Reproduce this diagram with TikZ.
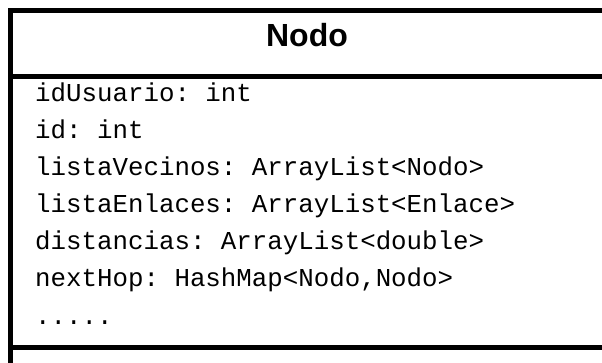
\documentclass[tikz,border=0pt]{standalone}
\usepackage{fontspec}
\usepackage{tikz}
\newfontfamily\titlefont{Liberation Sans}
\newfontfamily\attrfont{Liberation Mono}
\frenchspacing
\tikzset{
	classline/.style={line width=5pt},
	attr/.style={anchor=base west, inner sep=0pt, font=\attrfont\fontsize{25.8}{30}\selectfont},
	classtitle/.style={inner sep=0pt, font=\titlefont\bfseries\fontsize{32}{36}\selectfont}
}

\begin{document}
\begin{tikzpicture}[x=1pt,y=-1pt]
		%% Everything is measured in pixels of the page
		\useasboundingbox (0,0) rectangle (602,363);
		\clip (0,0) rectangle (602,363);
		
		%% Class box (runs past the right and bottom edges)
		\draw[classline] (10.5,11) rectangle (625,390);
		\draw[classline] (10.5,76.5) -- (625,76.5);
		\draw[classline] (10.5,347.5) -- (625,347.5);
		
		% Class name
		\node[classtitle] (nodo) at (307,35.5) {Nodo};
		
		% Attributes
		\node[attr] (idUsuario) at (35,102) {idUsuario: int};
		\node[attr] (id) at (35,139) {id: int};
		\node[attr] (vecinos) at (35,176) {listaVecinos: ArrayList<Nodo>};
		\node[attr] (enlaces) at (35,213) {listaEnlaces: ArrayList<Enlace>};
		\node[attr] (distancias) at (35,250) {distancias: ArrayList<double>};
		\node[attr] (nextHop) at (35,287) {nextHop: HashMap<Nodo,Nodo>};
		\node[attr] (dots) at (35,324) {.....};
	\end{tikzpicture}
\end{document}
